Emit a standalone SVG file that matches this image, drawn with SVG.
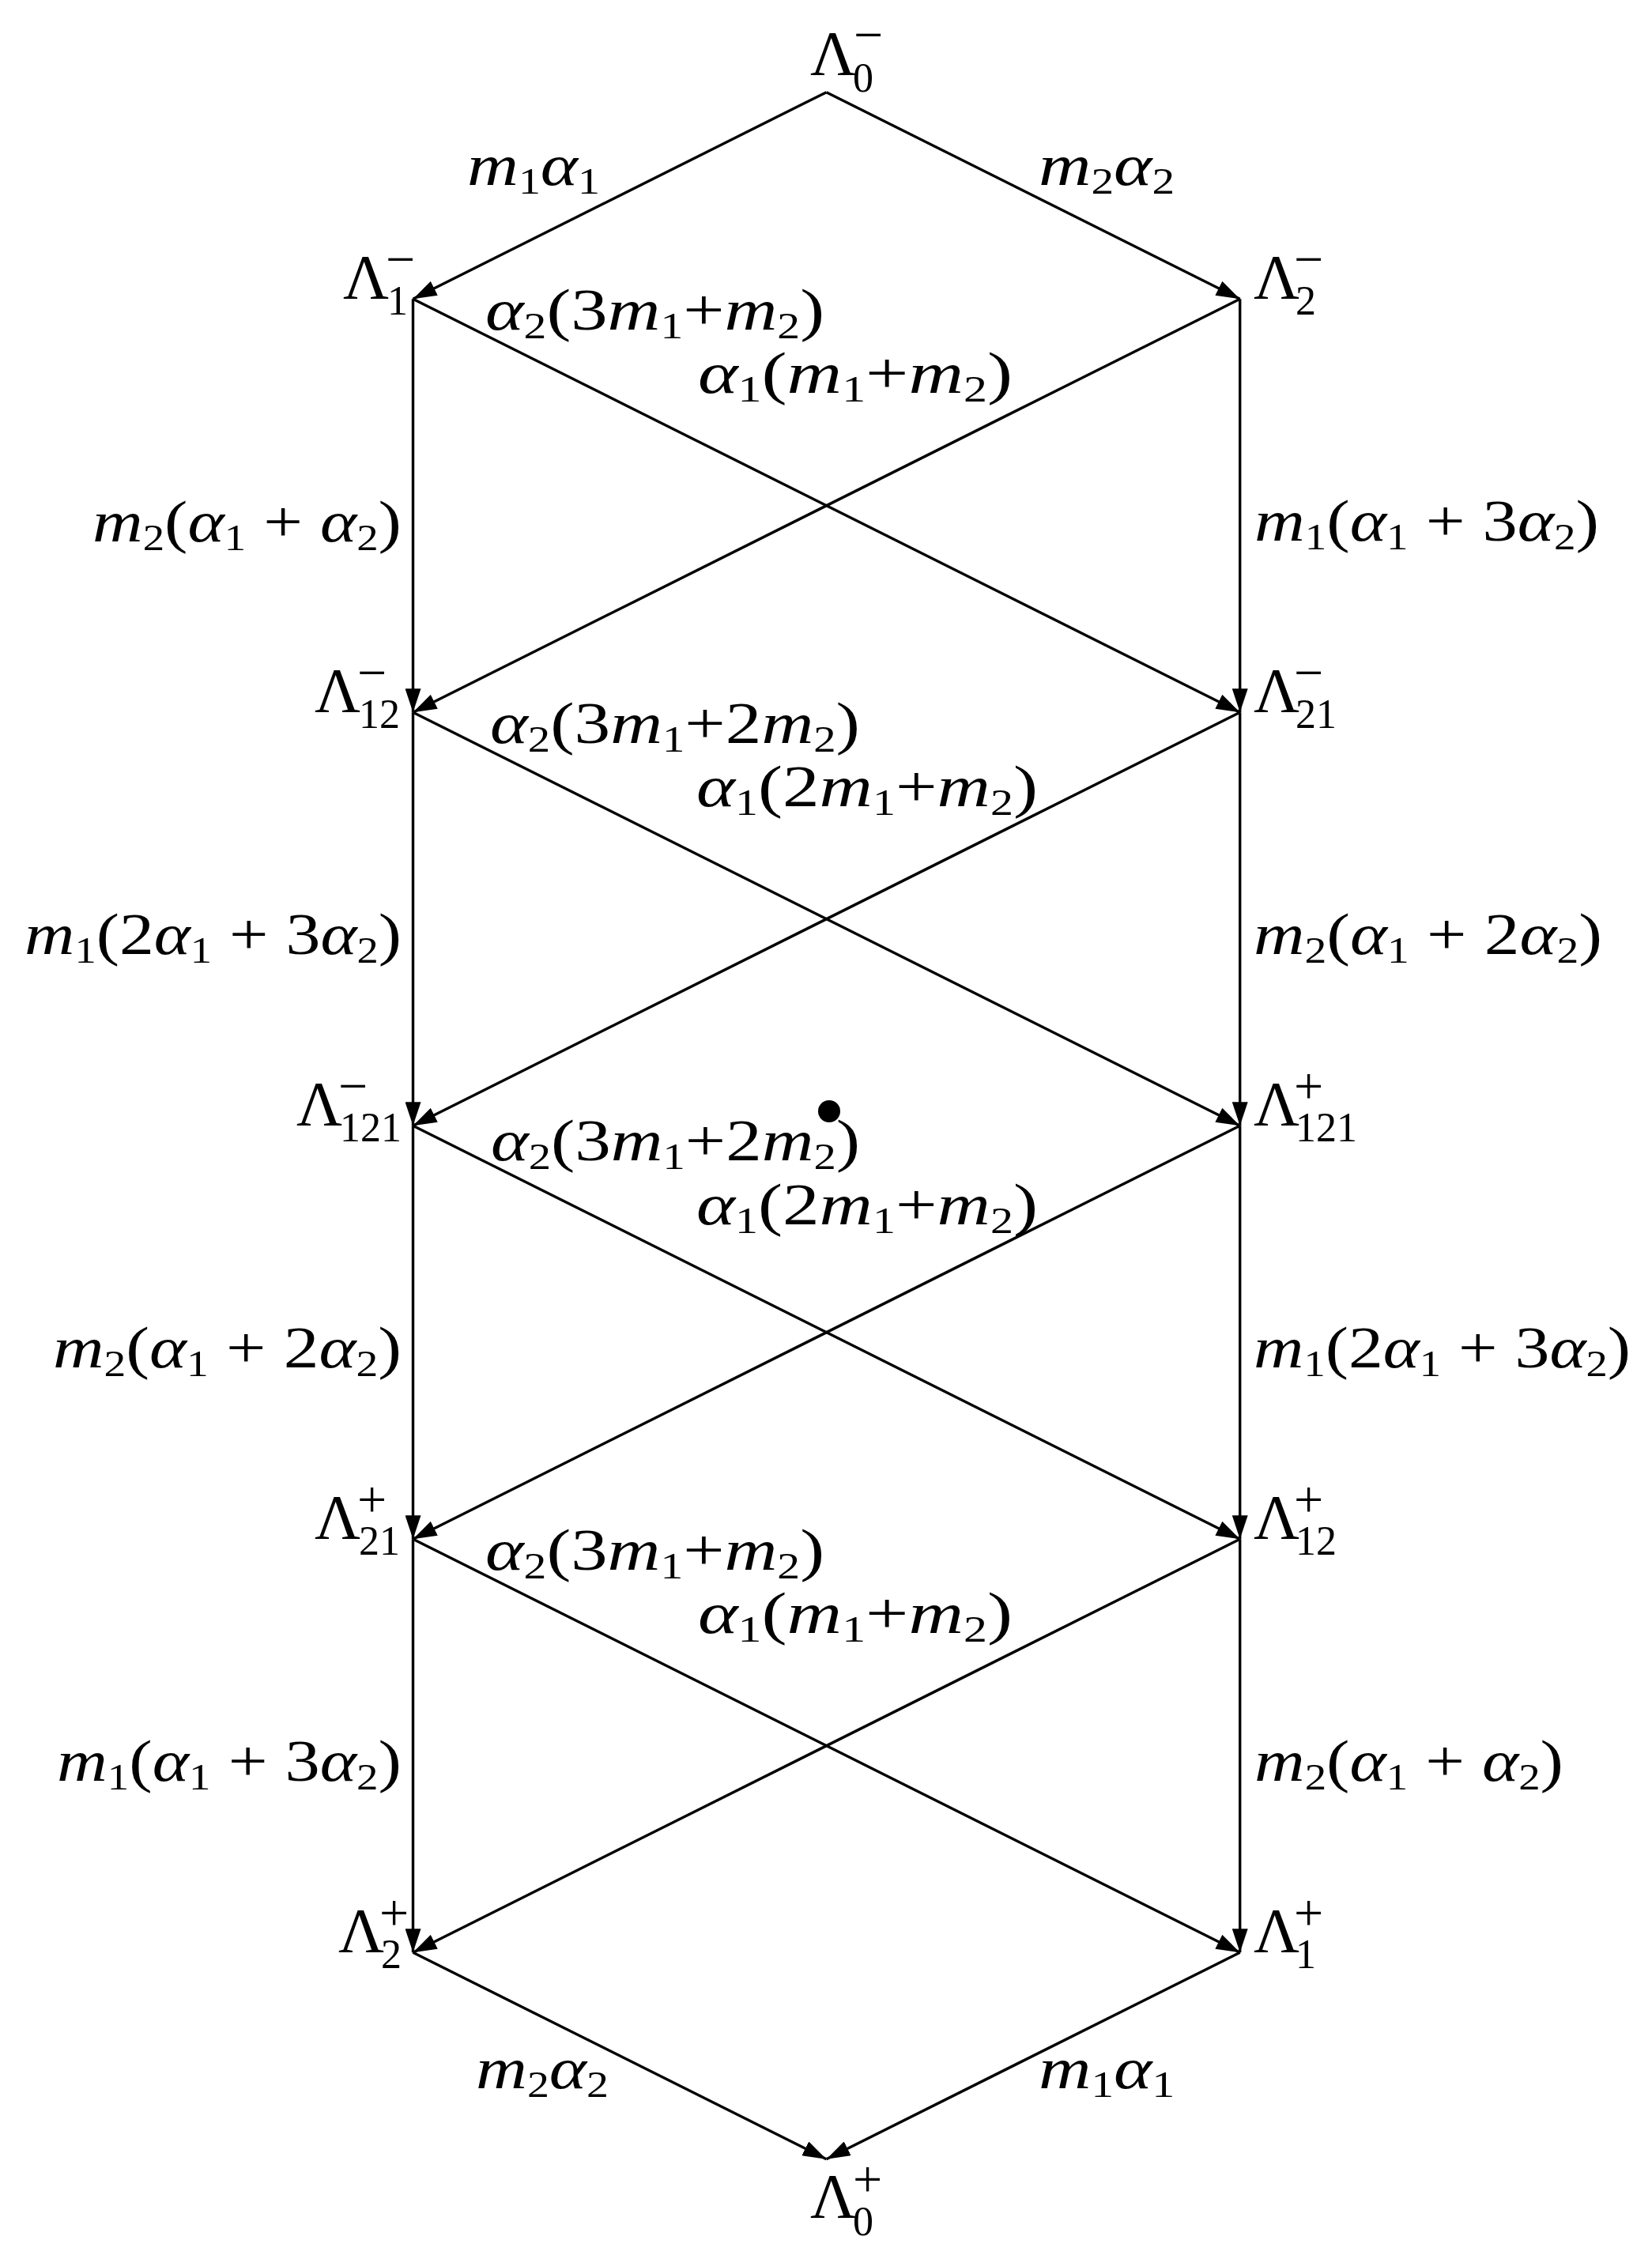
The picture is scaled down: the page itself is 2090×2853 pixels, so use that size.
<svg xmlns="http://www.w3.org/2000/svg" width="2090" height="2853" viewBox="0 0 2090 2853" font-family="'Liberation Serif', 'Times New Roman', serif">
<defs>
<marker id="ah" viewBox="0 -10 30 20" refX="30" refY="0" markerWidth="30" markerHeight="20" markerUnits="userSpaceOnUse" orient="auto"><path d="M0,-10 L30,0 L0,10 z" fill="#000"/></marker>
</defs>
<style>
.e{stroke:#000;stroke-width:3.4;fill:none;marker-end:url(#ah)}
.t{font-family:'Liberation Serif','Times New Roman',serif;font-size:74px;fill:#000}
.i{font-style:italic}
.s{font-size:46px}
.L{font-family:'Liberation Serif','Times New Roman',serif;font-size:80px;fill:#000}
.ns{font-size:52px}
.np{font-size:66px}
</style>
<rect width="2090" height="2853" fill="#fff"/>
<g id="connectors">
<line class="e" x1="1045.5" y1="116.7" x2="522.5" y2="378.2"/>
<line class="e" x1="1045.5" y1="116.7" x2="1568.7" y2="378.2"/>
<line class="e" x1="522.5" y1="378.2" x2="522.5" y2="901.2"/>
<line class="e" x1="1568.7" y1="378.2" x2="1568.7" y2="901.2"/>
<line class="e" x1="522.5" y1="378.2" x2="1568.7" y2="901.2"/>
<line class="e" x1="1568.7" y1="378.2" x2="522.5" y2="901.2"/>
<line class="e" x1="522.5" y1="901.2" x2="522.5" y2="1424.2"/>
<line class="e" x1="1568.7" y1="901.2" x2="1568.7" y2="1424.2"/>
<line class="e" x1="522.5" y1="901.2" x2="1568.7" y2="1424.2"/>
<line class="e" x1="1568.7" y1="901.2" x2="522.5" y2="1424.2"/>
<line class="e" x1="522.5" y1="1424.2" x2="522.5" y2="1947.2"/>
<line class="e" x1="1568.7" y1="1424.2" x2="1568.7" y2="1947.2"/>
<line class="e" x1="522.5" y1="1424.2" x2="1568.7" y2="1947.2"/>
<line class="e" x1="1568.7" y1="1424.2" x2="522.5" y2="1947.2"/>
<line class="e" x1="522.5" y1="1947.2" x2="522.5" y2="2470.2"/>
<line class="e" x1="1568.7" y1="1947.2" x2="1568.7" y2="2470.2"/>
<line class="e" x1="522.5" y1="1947.2" x2="1568.7" y2="2470.2"/>
<line class="e" x1="1568.7" y1="1947.2" x2="522.5" y2="2470.2"/>
<line class="e" x1="522.5" y1="2470.2" x2="1045.5" y2="2731.7"/>
<line class="e" x1="1568.7" y1="2470.2" x2="1045.5" y2="2731.7"/>
</g>
<g id="edge-labels">
<text class="t" x="591" y="234" textLength="168" lengthAdjust="spacingAndGlyphs"><tspan class="i">m</tspan><tspan class="s" dy="11">1</tspan><tspan class="i" dy="-11">α</tspan><tspan class="s" dy="11">1</tspan></text>
<text class="t" x="1314" y="234" textLength="172" lengthAdjust="spacingAndGlyphs"><tspan class="i">m</tspan><tspan class="s" dy="11">2</tspan><tspan class="i" dy="-11">α</tspan><tspan class="s" dy="11">2</tspan></text>
<text class="t" x="614" y="417" textLength="429" lengthAdjust="spacingAndGlyphs"><tspan class="i">α</tspan><tspan class="s" dy="11">2</tspan><tspan dy="-11">(3</tspan><tspan class="i">m</tspan><tspan class="s" dy="11">1</tspan><tspan dy="-11">+</tspan><tspan class="i">m</tspan><tspan class="s" dy="11">2</tspan><tspan dy="-11">)</tspan></text>
<text class="t" x="883" y="497" textLength="398" lengthAdjust="spacingAndGlyphs"><tspan class="i">α</tspan><tspan class="s" dy="11">1</tspan><tspan dy="-11">(</tspan><tspan class="i">m</tspan><tspan class="s" dy="11">1</tspan><tspan dy="-11">+</tspan><tspan class="i">m</tspan><tspan class="s" dy="11">2</tspan><tspan dy="-11">)</tspan></text>
<text class="t" x="117" y="685" textLength="391" lengthAdjust="spacingAndGlyphs"><tspan class="i">m</tspan><tspan class="s" dy="11">2</tspan><tspan dy="-11">(</tspan><tspan class="i">α</tspan><tspan class="s" dy="11">1</tspan><tspan dy="-11"> + </tspan><tspan class="i">α</tspan><tspan class="s" dy="11">2</tspan><tspan dy="-11">)</tspan></text>
<text class="t" x="1587" y="684" textLength="436" lengthAdjust="spacingAndGlyphs"><tspan class="i">m</tspan><tspan class="s" dy="11">1</tspan><tspan dy="-11">(</tspan><tspan class="i">α</tspan><tspan class="s" dy="11">1</tspan><tspan dy="-11"> + 3</tspan><tspan class="i">α</tspan><tspan class="s" dy="11">2</tspan><tspan dy="-11">)</tspan></text>
<text class="t" x="620" y="940" textLength="468" lengthAdjust="spacingAndGlyphs"><tspan class="i">α</tspan><tspan class="s" dy="11">2</tspan><tspan dy="-11">(3</tspan><tspan class="i">m</tspan><tspan class="s" dy="11">1</tspan><tspan dy="-11">+2</tspan><tspan class="i">m</tspan><tspan class="s" dy="11">2</tspan><tspan dy="-11">)</tspan></text>
<text class="t" x="881" y="1020" textLength="432" lengthAdjust="spacingAndGlyphs"><tspan class="i">α</tspan><tspan class="s" dy="11">1</tspan><tspan dy="-11">(2</tspan><tspan class="i">m</tspan><tspan class="s" dy="11">1</tspan><tspan dy="-11">+</tspan><tspan class="i">m</tspan><tspan class="s" dy="11">2</tspan><tspan dy="-11">)</tspan></text>
<text class="t" x="31" y="1207" textLength="477" lengthAdjust="spacingAndGlyphs"><tspan class="i">m</tspan><tspan class="s" dy="11">1</tspan><tspan dy="-11">(2</tspan><tspan class="i">α</tspan><tspan class="s" dy="11">1</tspan><tspan dy="-11"> + 3</tspan><tspan class="i">α</tspan><tspan class="s" dy="11">2</tspan><tspan dy="-11">)</tspan></text>
<text class="t" x="1586" y="1207" textLength="441" lengthAdjust="spacingAndGlyphs"><tspan class="i">m</tspan><tspan class="s" dy="11">2</tspan><tspan dy="-11">(</tspan><tspan class="i">α</tspan><tspan class="s" dy="11">1</tspan><tspan dy="-11"> + 2</tspan><tspan class="i">α</tspan><tspan class="s" dy="11">2</tspan><tspan dy="-11">)</tspan></text>
<text class="t" x="621" y="1468" textLength="467" lengthAdjust="spacingAndGlyphs"><tspan class="i">α</tspan><tspan class="s" dy="11">2</tspan><tspan dy="-11">(3</tspan><tspan class="i">m</tspan><tspan class="s" dy="11">1</tspan><tspan dy="-11">+2</tspan><tspan class="i">m</tspan><tspan class="s" dy="11">2</tspan><tspan dy="-11">)</tspan></text>
<text class="t" x="881" y="1549" textLength="432" lengthAdjust="spacingAndGlyphs"><tspan class="i">α</tspan><tspan class="s" dy="11">1</tspan><tspan dy="-11">(2</tspan><tspan class="i">m</tspan><tspan class="s" dy="11">1</tspan><tspan dy="-11">+</tspan><tspan class="i">m</tspan><tspan class="s" dy="11">2</tspan><tspan dy="-11">)</tspan></text>
<text class="t" x="67" y="1730" textLength="441" lengthAdjust="spacingAndGlyphs"><tspan class="i">m</tspan><tspan class="s" dy="11">2</tspan><tspan dy="-11">(</tspan><tspan class="i">α</tspan><tspan class="s" dy="11">1</tspan><tspan dy="-11"> + 2</tspan><tspan class="i">α</tspan><tspan class="s" dy="11">2</tspan><tspan dy="-11">)</tspan></text>
<text class="t" x="1586" y="1730" textLength="477" lengthAdjust="spacingAndGlyphs"><tspan class="i">m</tspan><tspan class="s" dy="11">1</tspan><tspan dy="-11">(2</tspan><tspan class="i">α</tspan><tspan class="s" dy="11">1</tspan><tspan dy="-11"> + 3</tspan><tspan class="i">α</tspan><tspan class="s" dy="11">2</tspan><tspan dy="-11">)</tspan></text>
<text class="t" x="614" y="1986" textLength="429" lengthAdjust="spacingAndGlyphs"><tspan class="i">α</tspan><tspan class="s" dy="11">2</tspan><tspan dy="-11">(3</tspan><tspan class="i">m</tspan><tspan class="s" dy="11">1</tspan><tspan dy="-11">+</tspan><tspan class="i">m</tspan><tspan class="s" dy="11">2</tspan><tspan dy="-11">)</tspan></text>
<text class="t" x="883" y="2066" textLength="398" lengthAdjust="spacingAndGlyphs"><tspan class="i">α</tspan><tspan class="s" dy="11">1</tspan><tspan dy="-11">(</tspan><tspan class="i">m</tspan><tspan class="s" dy="11">1</tspan><tspan dy="-11">+</tspan><tspan class="i">m</tspan><tspan class="s" dy="11">2</tspan><tspan dy="-11">)</tspan></text>
<text class="t" x="72" y="2253" textLength="436" lengthAdjust="spacingAndGlyphs"><tspan class="i">m</tspan><tspan class="s" dy="11">1</tspan><tspan dy="-11">(</tspan><tspan class="i">α</tspan><tspan class="s" dy="11">1</tspan><tspan dy="-11"> + 3</tspan><tspan class="i">α</tspan><tspan class="s" dy="11">2</tspan><tspan dy="-11">)</tspan></text>
<text class="t" x="1587" y="2253" textLength="391" lengthAdjust="spacingAndGlyphs"><tspan class="i">m</tspan><tspan class="s" dy="11">2</tspan><tspan dy="-11">(</tspan><tspan class="i">α</tspan><tspan class="s" dy="11">1</tspan><tspan dy="-11"> + </tspan><tspan class="i">α</tspan><tspan class="s" dy="11">2</tspan><tspan dy="-11">)</tspan></text>
<text class="t" x="602" y="2642" textLength="168" lengthAdjust="spacingAndGlyphs"><tspan class="i">m</tspan><tspan class="s" dy="11">2</tspan><tspan class="i" dy="-11">α</tspan><tspan class="s" dy="11">2</tspan></text>
<text class="t" x="1314" y="2642" textLength="172" lengthAdjust="spacingAndGlyphs"><tspan class="i">m</tspan><tspan class="s" dy="11">1</tspan><tspan class="i" dy="-11">α</tspan><tspan class="s" dy="11">1</tspan></text>
</g>
<g id="nodes">
<g id="n-L0m"><text class="L"><tspan x="1025" y="95">Λ</tspan><tspan class="np" x="1080" y="66">−</tspan><tspan class="ns" x="1079" y="116">0</tspan></text></g>
<g id="n-L1m"><text class="L"><tspan x="434" y="378">Λ</tspan><tspan class="np" x="488" y="350">−</tspan><tspan class="ns" x="490" y="398">1</tspan></text></g>
<g id="n-L2m"><text class="L"><tspan x="1586" y="378">Λ</tspan><tspan class="np" x="1637" y="350">−</tspan><tspan class="ns" x="1639" y="398">2</tspan></text></g>
<g id="n-L12m"><text class="L"><tspan x="398" y="901">Λ</tspan><tspan class="np" x="452" y="873">−</tspan><tspan class="ns" x="454" y="921">12</tspan></text></g>
<g id="n-L21m"><text class="L"><tspan x="1586" y="901">Λ</tspan><tspan class="np" x="1637" y="873">−</tspan><tspan class="ns" x="1639" y="921">21</tspan></text></g>
<g id="n-L121m"><text class="L"><tspan x="375" y="1424">Λ</tspan><tspan class="np" x="428" y="1396">−</tspan><tspan class="ns" x="430" y="1444">121</tspan></text></g>
<g id="n-L121p"><text class="L"><tspan x="1586" y="1424">Λ</tspan><tspan class="np" x="1637" y="1396">+</tspan><tspan class="ns" x="1639" y="1444">121</tspan></text></g>
<g id="n-L21p"><text class="L"><tspan x="398" y="1947">Λ</tspan><tspan class="np" x="452" y="1919">+</tspan><tspan class="ns" x="454" y="1967">21</tspan></text></g>
<g id="n-L12p"><text class="L"><tspan x="1586" y="1947">Λ</tspan><tspan class="np" x="1637" y="1919">+</tspan><tspan class="ns" x="1639" y="1967">12</tspan></text></g>
<g id="n-L2p"><text class="L"><tspan x="428" y="2470">Λ</tspan><tspan class="np" x="480" y="2442">+</tspan><tspan class="ns" x="482" y="2490">2</tspan></text></g>
<g id="n-L1p"><text class="L"><tspan x="1586" y="2470">Λ</tspan><tspan class="np" x="1637" y="2442">+</tspan><tspan class="ns" x="1639" y="2490">1</tspan></text></g>
<g id="n-L0p"><text class="L"><tspan x="1025" y="2806">Λ</tspan><tspan class="np" x="1079" y="2779">+</tspan><tspan class="ns" x="1079" y="2828">0</tspan></text></g>
</g>
<g id="dot"><circle cx="1049" cy="1406" r="14" fill="#000"/></g>
</svg>
